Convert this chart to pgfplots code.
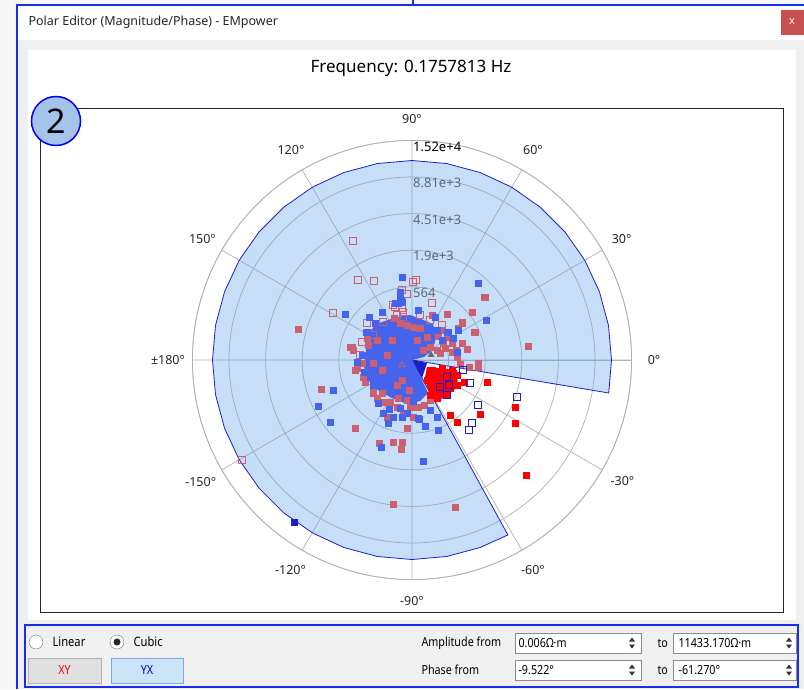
\documentclass[border=0pt]{standalone}
\usepackage{pgfplots}
\pgfplotsset{compat=1.18}
\usepgfplotslibrary{polar}
\usepackage{fontspec}
\setmainfont{Noto Sans}
\newfontfamily\narrow[FakeStretch=0.86]{Noto Sans}

\definecolor{xyc}{RGB}{204,96,112}
\definecolor{yxc}{RGB}{70,100,235}
\definecolor{selblue}{RGB}{30,30,200}
\definecolor{areafill}{RGB}{92,161,235}
\definecolor{guigray}{RGB}{240,240,240}
\definecolor{winblue}{RGB}{25,45,240}
\definecolor{ringlabel}{RGB}{95,105,125}
\definecolor{closered}{RGB}{199,80,80}
\definecolor{btnblue}{RGB}{204,228,247}
\definecolor{btnedge}{RGB}{120,170,230}

\begin{document}
\begin{tikzpicture}
\begin{scope}[x=1pt,y=-1pt]
  \useasboundingbox (0,0) rectangle (804,689);
  \fill[black!3] (0,0) rectangle (804,689);
  \fill[guigray] (18,6) rectangle (804,689);
  \fill[white] (18,6) rectangle (804,40);
  \fill[white] (28,50) rectangle (796,620);
  \draw[winblue, line width=1.5pt] (17,689) -- (17,5) -- (804,5);
  \draw[winblue, line width=1.2pt] (413,0) -- (413,5);
  \node[anchor=west, font=\fontsize{12.5}{14}\selectfont, text=black!85] at (25,22) {Polar Editor (Magnitude/Phase) - EMpower};
  \fill[closered] (781,10) rectangle (804,35);
  \node[text=white, font=\fontsize{11}{12}\selectfont] at (792,22) {x};
  \node[font=\fontsize{17}{20}\selectfont] at (411,68) {Frequency: 0.1757813 Hz};
  \draw[black!85, line width=0.8pt] (40.5,108.5) rectangle (783,612);
\end{scope}

\begin{polaraxis}[
  at={(412pt,-360pt)}, anchor=origin,
  scale only axis, width=439.2pt, height=439.2pt,
  ymin=0, ymax=219.6,
  xtick={0,30,...,330},
  ytick={36.6,73.2,109.8,146.4,183,219.6},
  xticklabel={\relax}, yticklabel={\relax},
  major tick length=0pt,
  grid=major,
  major grid style={draw=black!30, line width=0.7pt},
  axis line style={draw=black!30, line width=0.7pt},
  clip=false,
]
% selected amplitude / phase area (polar: angle, radius)
\addplot[draw=selblue, line width=0.8pt, fill=areafill, fill opacity=0.35] coordinates {
  (0,0.3) (-9.522,199.5) (0,199.5) (10,199.5) (20,199.5) (30,199.5) (40,199.5)
  (50,199.5) (60,199.5) (70,199.5) (80,199.5) (90,199.5) (100,199.5) (110,199.5)
  (120,199.5) (130,199.5) (140,199.5) (150,199.5) (160,199.5) (170,199.5)
  (180,199.5) (190,199.5) (200,199.5) (210,199.5) (220,199.5) (230,199.5)
  (240,199.5) (250,199.5) (260,199.5) (270,199.5) (280,199.5) (290,199.5)
  (298.73,199.5) (298.73,0.3)
} -- cycle;

% dense cores
\addplot[data cs=cart, draw=none, fill=yxc] coordinates {
  (-36,36) (-15,43) (-2,45) (9,41) (21,36) (24,23) (21,10) (12,3) (0.5,0.2)
  (16,-33) (8,-41) (-5,-44) (-20,-38) (-33,-31) (-43,-21) (-48,-7) (-46,10) (-43,27)
};
\addplot[data cs=cart, draw=none, fill=red] coordinates {
  (15,-7) (45,-10) (46,-27) (28,-40) (18,-37) (13,-17)
};
\addplot[data cs=cart, draw=none, fill=selblue] coordinates {
  (0.5,-0.2) (15,-3) (10,-18)
};

% XY, filled
\addplot[data cs=cart, only marks, mark=square*, mark size=3.2pt, mark options={draw=xyc, fill=xyc}] coordinates {
  (-114,31) (72,63) (60,48) (50,37) (62,28) (35,46) (116,14) (55,11) (50,17)
  (66,-3) (66,-7) (57,-7) (48,-4) (45,3) (40,17) (44,10) (-62,13) (-59,10)
  (-55,-8) (-45,-17) (-91,-29) (-57,-68) (-33,-83) (-19,-82) (-10,-82) (-11,-89)
  (-19,-144) (43,-147) (-25,-57) (-5,-68) (18,-40) (5,-47) (-30,-33) (-39,-33)
  (-45,22) (-35,20) (-60,13) (-57,-10) (-49,-17) (-39,-30) (-29,-42) (-15,-47)
  (-2,-47) (6,-47) (35,23) (40,8) (28,7) (31,17) (50,38) (73,63) (63,28) (46,32)
  (-12,37) (-5,35) (1,33) (8,32) (15,23) (18,13) (11,10) (25,10) (-44,15)
  (-39,-3) (-14,-38) (-5,-40) (-22,-42) (-9,-53) (1,-57) (-20,20) (-30,-10)
  (-10,-20) (30,30) (20,45) (-25,5) (5,20) (-50,-3) (-47,-22) (-35,-38)
  (12,-45) (-18,42) (26,24) (33,12) (-3,-30) (-15,-25)
};
% XY, open
\addplot[data cs=cart, only marks, mark=square, mark size=3.2pt, mark options={draw=xyc, line width=0.8pt}] coordinates {
  (-59,119) (-54,80) (-38,79) (4,80) (1,78) (-10,70) (-5,66) (20,57) (-79,47)
  (-45,37) (-17,53) (-15,45) (-9,48) (-170,-100) (18,40) (-29,38) (-19,55)
  (-10,52) (-9,43) (8,45) (30,35) (-39,25) (-50,18) (-52,5)
};
\addplot[data cs=cart, only marks, mark=triangle, mark size=3.5pt, mark options={draw=xyc, line width=0.8pt}] coordinates {(-10,-5)};
% YX, filled
\addplot[data cs=cart, only marks, mark=square*, mark size=3.2pt, mark options={draw=yxc, fill=yxc}] coordinates {
  (-10,83) (66,77) (74,40) (-67,46) (-30,48) (-12,63) (-10,58) (-14,57) (6,50)
  (23,43) (-45,28) (-37,37) (-43,43) (36,28) (46,30) (41,22) (-55,-2) (-79,-30)
  (-94,-46) (-82,-62) (-42,-17) (-39,-25) (-34,-43) (-23,-49) (-19,-57) (-24,-63)
  (-12,-48) (-10,-57) (-5,-53) (7,-59) (13,-66) (25,-57) (26,-70) (-31,-87)
  (11,-101) (18,-50) (1,-41) (-12,68) (-11,60) (-17,57) (-46,28) (-29,-53)
  (6,-58) (45,8) (35,28) (-50,5) (-48,-12) (25,30) (30,20)
};
\addplot[data cs=cart, only marks, mark=square*, mark size=3.2pt, mark options={draw=selblue, fill=selblue}] coordinates {(-118,-162)};
% selected XY
\addplot[data cs=cart, only marks, mark=square*, mark size=3.2pt, mark options={draw=red, fill=red}] coordinates {
  (52,-22) (75,-22) (103,-47) (103,-63) (68,-54) (38,-55) (45,-62) (114,-115)
  (20,-10) (30,-8) (40,-10) (45,-15) (45,-25) (35,-35) (25,-38) (18,-35)
  (15,-20) (28,-20) (38,-28)
};
% selected YX, open
\addplot[data cs=cart, only marks, mark=square, mark size=3.2pt, mark options={draw=selblue, line width=0.8pt}] coordinates {
  (51,-10) (58,-23) (105,-37) (66,-45) (60,-63) (57,-70) (35,-17) (37,-25)
  (28,-27) (35,-35)
};
\addplot[data cs=cart, only marks, mark=triangle*, mark size=3.5pt, mark options={draw=black!60, fill=black!60}] coordinates {(19,5)};

% ring labels
\node[anchor=north west, inner sep=1pt, font=\fontsize{13}{15}\selectfont, text=black] at (axis cs:90,219.6) {1.52e+4};
\node[anchor=north west, inner sep=1pt, font=\fontsize{13}{15}\selectfont, text=ringlabel] at (axis cs:90,183) {8.81e+3};
\node[anchor=north west, inner sep=1pt, font=\fontsize{13}{15}\selectfont, text=ringlabel] at (axis cs:90,146.4) {4.51e+3};
\node[anchor=north west, inner sep=1pt, font=\fontsize{13}{15}\selectfont, text=ringlabel] at (axis cs:90,109.8) {1.9e+3};
\node[anchor=north west, inner sep=1pt, font=\fontsize{13}{15}\selectfont, text=ringlabel] at (axis cs:90,73.2) {564};

% angle labels
\node[font=\fontsize{12.5}{14}\selectfont, text=black!85] at (axis cs:0,242) {0°};
\node[font=\fontsize{12.5}{14}\selectfont, text=black!85] at (axis cs:30,242) {30°};
\node[font=\fontsize{12.5}{14}\selectfont, text=black!85] at (axis cs:60,242) {60°};
\node[font=\fontsize{12.5}{14}\selectfont, text=black!85] at (axis cs:90,241) {90°};
\node[font=\fontsize{12.5}{14}\selectfont, text=black!85] at (axis cs:120,242) {120°};
\node[font=\fontsize{12.5}{14}\selectfont, text=black!85] at (axis cs:150,242) {150°};
\node[font=\fontsize{12.5}{14}\selectfont, text=black!85] at (axis cs:180,244) {±180°};
\node[font=\fontsize{12.5}{14}\selectfont, text=black!85] at (axis cs:210,244) {-150°};
\node[font=\fontsize{12.5}{14}\selectfont, text=black!85] at (axis cs:240,243) {-120°};
\node[font=\fontsize{12.5}{14}\selectfont, text=black!85] at (axis cs:270,241) {-90°};
\node[font=\fontsize{12.5}{14}\selectfont, text=black!85] at (axis cs:300,242) {-60°};
\node[font=\fontsize{12.5}{14}\selectfont, text=black!85] at (axis cs:330,243) {-30°};
\end{polaraxis}

\begin{scope}[x=1pt,y=-1pt]
  \draw[blue, line width=1.5pt, fill={rgb,255:red,164;green,196;blue,236}] (56,121) circle (24.5);
  \node[font=\fontsize{34}{36}\selectfont] at (56,121) {2};
  % control panel
  \draw[winblue, line width=1.5pt] (25,625) rectangle (798,687);
  \draw[black!55, fill=white] (36,642) circle (7);
  \node[anchor=west, font=\narrow\fontsize{13}{15}\selectfont] at (49,642) {Linear};
  \draw[black!55, fill=white] (117,642) circle (7);
  \fill[black!85] (117,642) circle (3.5);
  \node[anchor=west, font=\narrow\fontsize{13}{15}\selectfont] at (130,642) {Cubic};
  \draw[black!30, fill=black!12] (28,658) rectangle (101,683);
  \node[text=red, font=\narrow\fontsize{12.5}{14}\selectfont] at (64.5,670.5) {XY};
  \draw[btnedge, fill=btnblue] (111,658) rectangle (183,683);
  \node[text=blue!80!black, font=\narrow\fontsize{12.5}{14}\selectfont] at (147,670.5) {YX};
  \node[anchor=west, font=\narrow\fontsize{12.5}{14}\selectfont] at (418,643) {Amplitude from};
  \node[anchor=west, font=\narrow\fontsize{12.5}{14}\selectfont] at (418,670) {Phase from};
  \node[anchor=west, font=\narrow\fontsize{12.5}{14}\selectfont] at (654,643) {to};
  \node[anchor=west, font=\narrow\fontsize{12.5}{14}\selectfont] at (654,670) {to};
  \draw[black!45, fill=white] (515,633) rectangle (641,653);
  \draw[black!45, fill=white] (673,633) rectangle (796,653);
  \draw[black!45, fill=white] (515,660) rectangle (641,680);
  \draw[black!45, fill=white] (673,660) rectangle (796,680);
  \node[anchor=west, font=\narrow\fontsize{12.5}{14}\selectfont] at (515,643) {0.006Ω·m};
  \node[anchor=west, font=\narrow\fontsize{12.5}{14}\selectfont] at (675,643) {11433.170Ω·m};
  \node[anchor=west, font=\narrow\fontsize{12.5}{14}\selectfont] at (515,670) {-9.522°};
  \node[anchor=west, font=\narrow\fontsize{12.5}{14}\selectfont] at (675,670) {-61.270°};
  \foreach \xx/\yy in {632/643, 789/643, 632/670, 789/670}{
    \fill[black!80] (\xx-3,\yy-1.5) -- (\xx+3,\yy-1.5) -- (\xx,\yy-5.5) -- cycle;
    \fill[black!80] (\xx-3,\yy+1.5) -- (\xx+3,\yy+1.5) -- (\xx,\yy+5.5) -- cycle;
  }
\end{scope}
\end{tikzpicture}
\end{document}
